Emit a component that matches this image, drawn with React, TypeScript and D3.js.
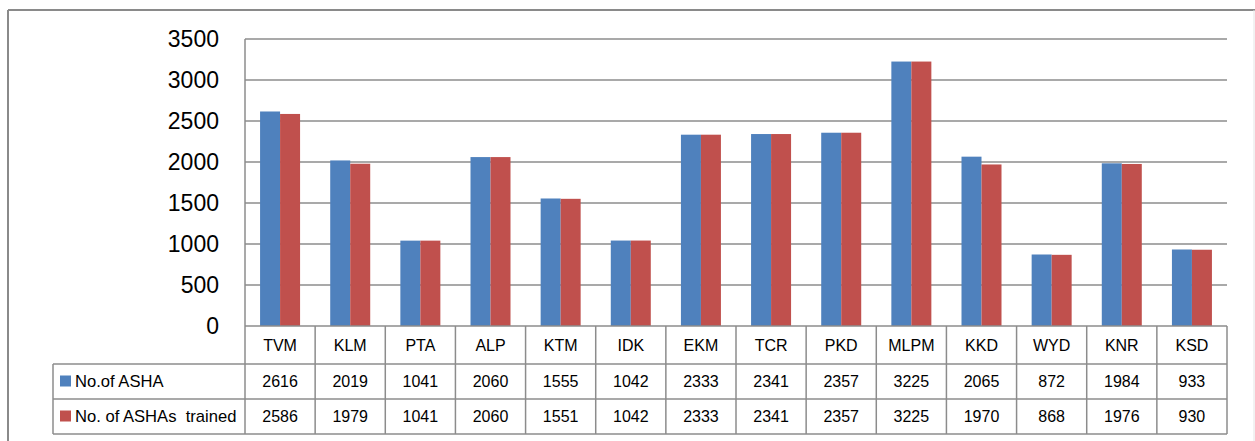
import React from "react";
import * as d3 from "d3";

const categories = ["TVM", "KLM", "PTA", "ALP", "KTM", "IDK", "EKM", "TCR", "PKD", "MLPM", "KKD", "WYD", "KNR", "KSD"];
const ashaTotal = [2616, 2019, 1041, 2060, 1555, 1042, 2333, 2341, 2357, 3225, 2065, 872, 1984, 933];
const ashaTrained = [2586, 1979, 1041, 2060, 1551, 1042, 2333, 2341, 2357, 3225, 1970, 868, 1976, 930];
const seriesNames = ["No.of ASHA", "No. of ASHAs  trained"];
const yTicks = [0, 500, 1000, 1500, 2000, 2500, 3000, 3500];

const W = 1255;
const H = 441;
const plotL = 245;
const plotR = 1227;
const plotT = 39;
const plotB = 326;
const row1B = 364;
const row2B = 399;
const row3B = 434;
const legendL = 53;
const colors = ["#4F81BD", "#C0504D"];
const gridC = "#8c8c8c";
const font = "'Liberation Sans', Arial, sans-serif";

export default function App() {
  const x = d3.scaleBand<string>().domain(categories).range([plotL, plotR]).paddingInner(0).paddingOuter(0);
  const y = d3.scaleLinear().domain([0, 3500]).range([plotB, plotT]);
  const bw = x.bandwidth();
  const barW = 20;
  const series = [ashaTotal, ashaTrained];

  return (
    <svg width={W} height={H} style={{ position: "absolute", left: 0, top: 0 }} fontFamily={font}>
      <rect x={0} y={0} width={W} height={H} fill="#fff" />
      {/* outer frame */}
      <line x1={8} y1={10} x2={W} y2={10} stroke="#8a8a8a" strokeWidth={2} />
      <line x1={8} y1={10} x2={8} y2={H} stroke="#8a8a8a" strokeWidth={2} />
      <line x1={1254} y1={10} x2={1254} y2={H} stroke="#e4e4e4" strokeWidth={1} />
      {/* gridlines */}
      {yTicks.map((t) => (
        <g key={t}>
          {t > 0 && (
            <line x1={plotL} x2={plotR} y1={y(t)} y2={y(t)} stroke={gridC} strokeWidth={1.5} />
          )}
          <text x={219} y={y(t)} dy="0.36em" textAnchor="end" fontSize={23} fill="#000">
            {t}
          </text>
        </g>
      ))}
      {/* bars */}
      {categories.map((c, i) =>
        series.map((s, k) => (
          <rect
            key={c + k}
            x={(x(c) as number) + bw / 2 - barW + k * barW}
            y={y(s[i])}
            width={barW}
            height={plotB - y(s[i])}
            fill={colors[k]}
          />
        ))
      )}
      {/* axis line */}
      <line x1={plotL} x2={plotL} y1={plotT} y2={plotB} stroke={gridC} strokeWidth={1.5} />
      {/* data table */}
      <g stroke={gridC} strokeWidth={1.5} fill="none">
        <line x1={plotL} x2={plotR} y1={plotB} y2={plotB} />
        <line x1={legendL} x2={plotR} y1={row1B} y2={row1B} />
        <line x1={legendL} x2={plotR} y1={row2B} y2={row2B} />
        <line x1={legendL} x2={plotR} y1={row3B} y2={row3B} />
        <line x1={legendL} x2={legendL} y1={row1B} y2={row3B} />
        {categories.map((c) => (
          <line key={c} x1={x(c) as number} x2={x(c) as number} y1={plotB} y2={row3B} />
        ))}
        <line x1={plotR} x2={plotR} y1={plotB} y2={row3B} />
      </g>
      {categories.map((c, i) => {
        const cx = (x(c) as number) + bw / 2;
        return (
          <g key={c} fontSize={16} fill="#000" textAnchor="middle">
            <text x={cx} y={(plotB + row1B) / 2} dy="0.36em">{c}</text>
            <text x={cx} y={(row1B + row2B) / 2} dy="0.36em">{ashaTotal[i]}</text>
            <text x={cx} y={(row2B + row3B) / 2} dy="0.36em">{ashaTrained[i]}</text>
          </g>
        );
      })}
      {seriesNames.map((n, k) => {
        const cy = k === 0 ? (row1B + row2B) / 2 : (row2B + row3B) / 2;
        return (
          <g key={n}>
            <rect x={60} y={cy - 6} width={11} height={11} fill={colors[k]} />
            <text x={75} y={cy} dy="0.36em" fontSize={16.6} fill="#000" style={{ whiteSpace: "pre" }}>
              {n}
            </text>
          </g>
        );
      })}
    </svg>
  );
}
